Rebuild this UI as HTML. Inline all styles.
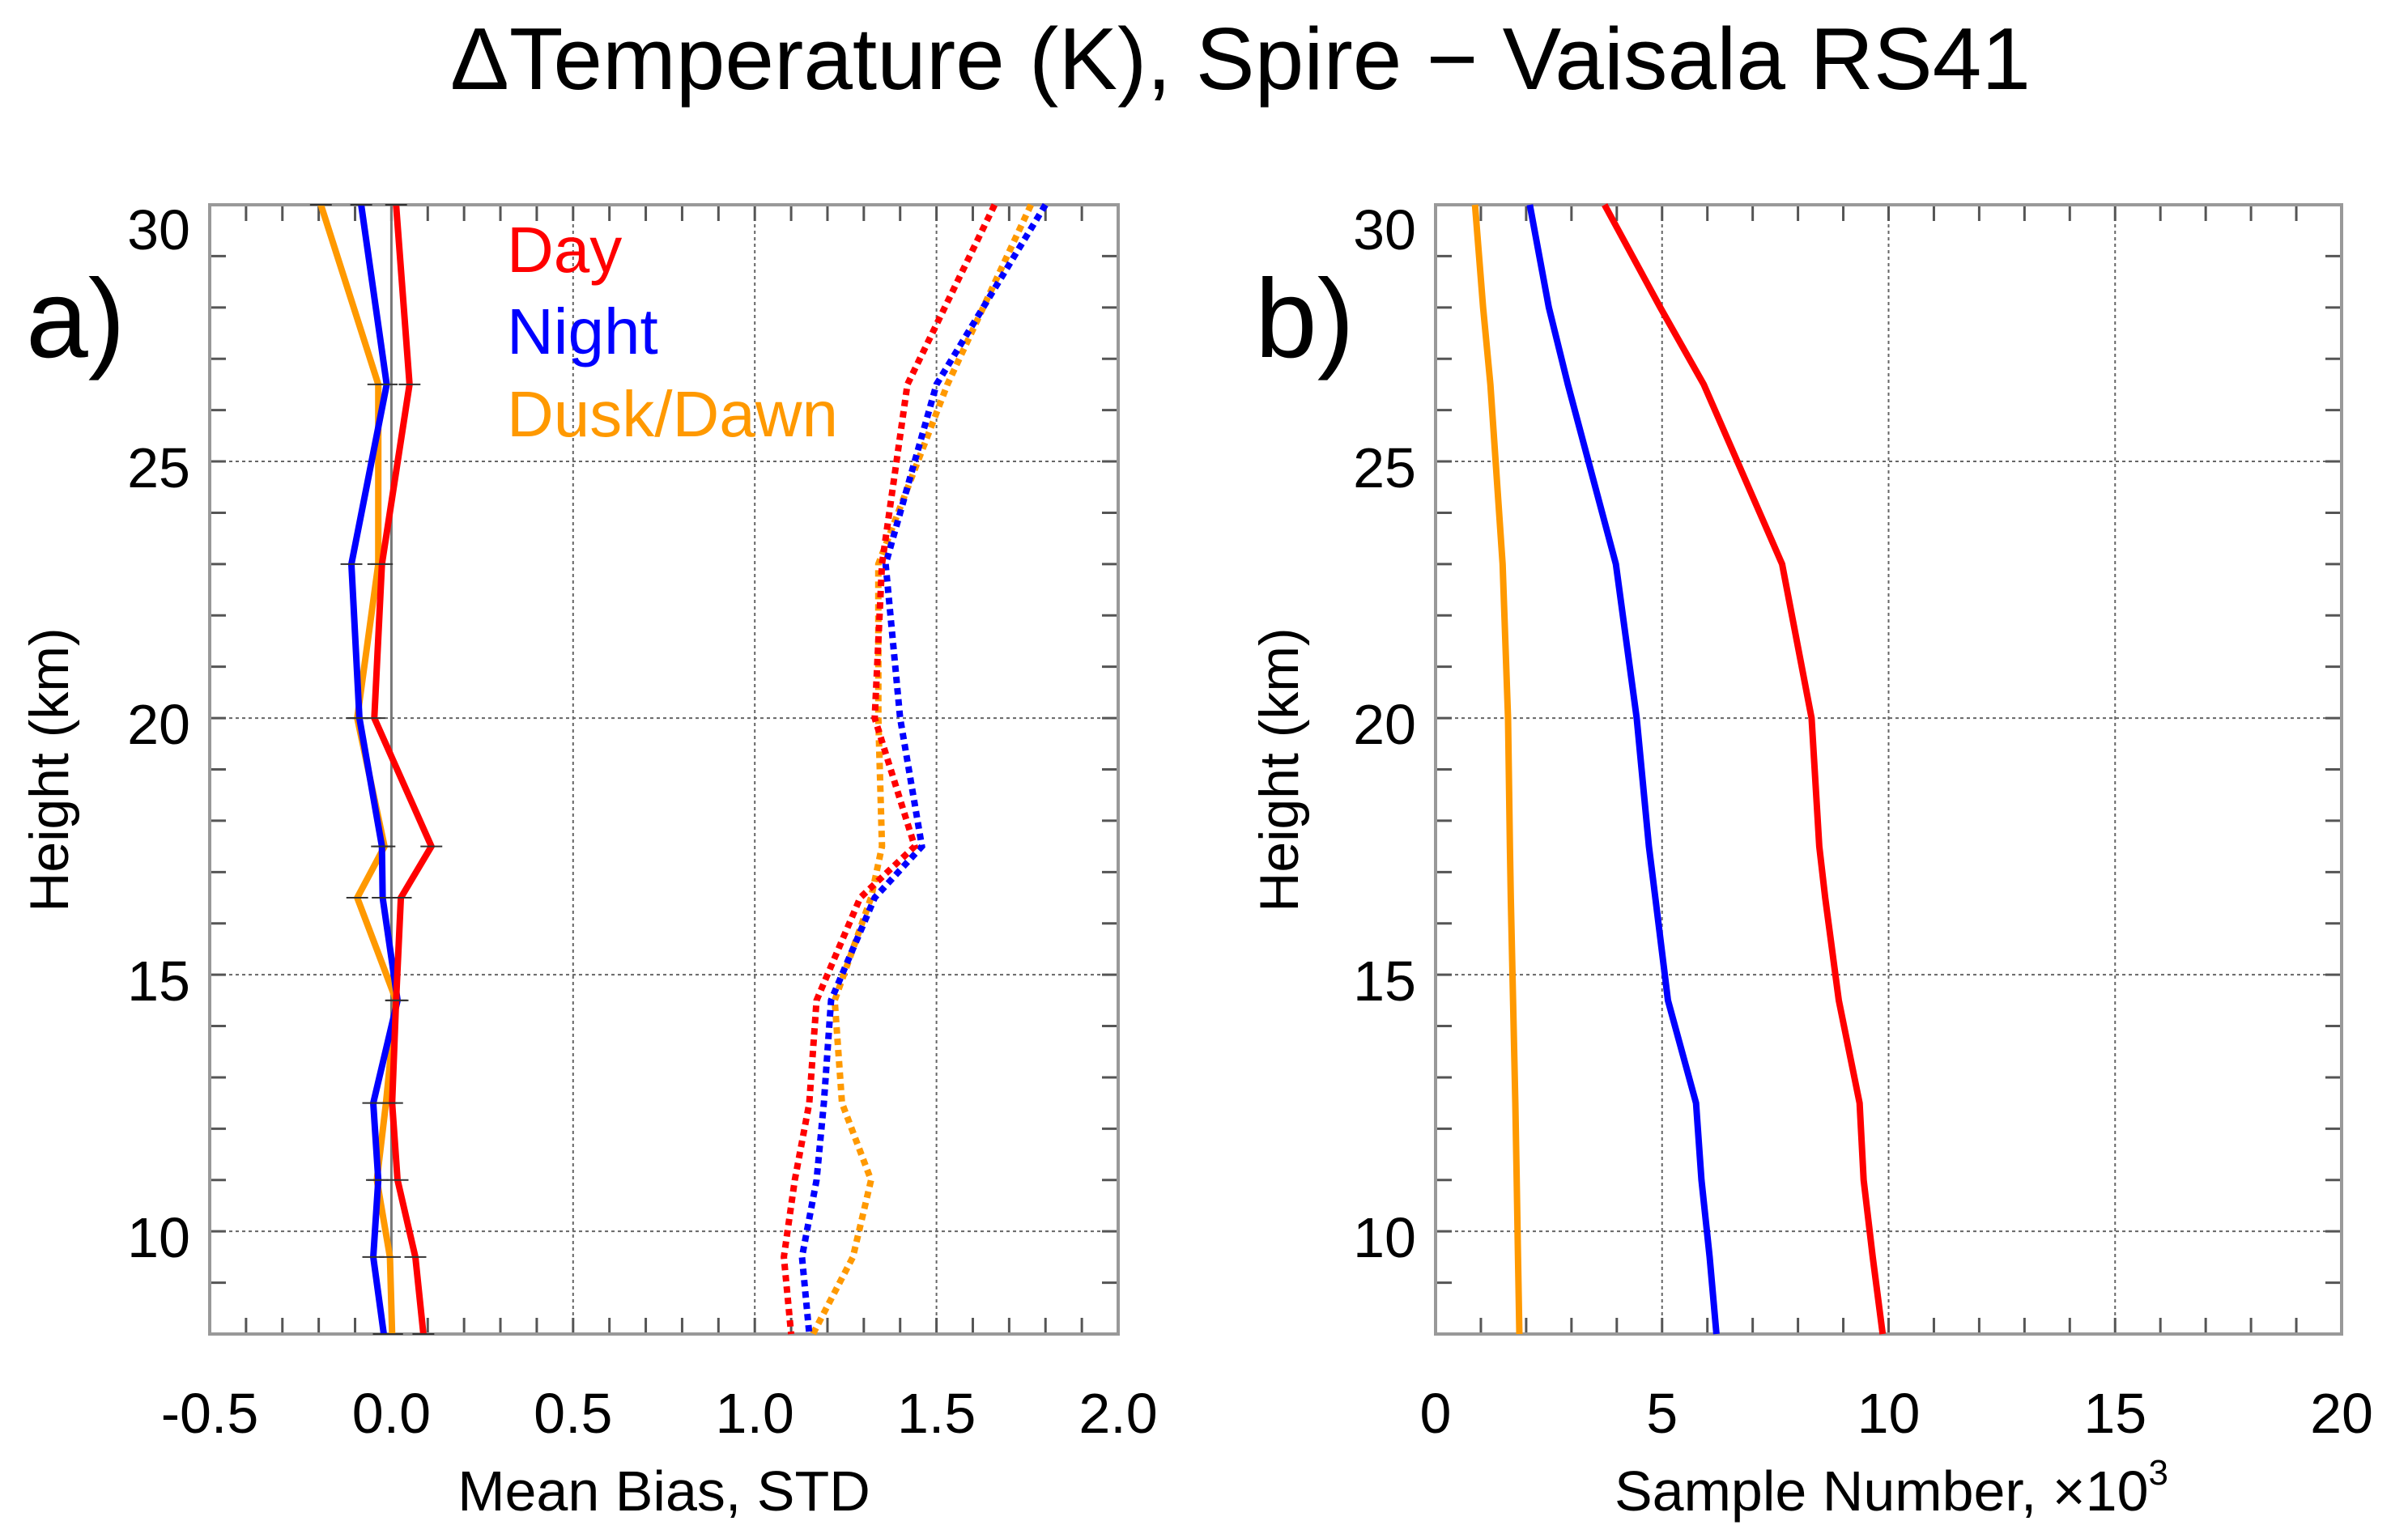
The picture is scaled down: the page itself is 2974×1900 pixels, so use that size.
<!DOCTYPE html>
<html><head><meta charset="utf-8"><style>
html,body{margin:0;padding:0;background:#fff;}
svg{display:block;font-family:"Liberation Sans",sans-serif;}
</style></head><body>
<svg id="chart" width="2974" height="1900" viewBox="0 0 2974 1900" xmlns="http://www.w3.org/2000/svg">
<text x="1532" y="110" font-size="109" text-anchor="middle">ΔTemperature (K), Spire − Vaisala RS41</text>
<g id="pa"></g>
<g id="pb"></g>
<text x="32" y="441" font-size="138">a)</text>
<text x="1550" y="441" font-size="138">b)</text>
<text x="626" y="336" font-size="80" fill="#ff0000">Day</text>
<text x="626" y="437" font-size="80" fill="#0000ff">Night</text>
<text x="626" y="539" font-size="80" fill="#ff9900">Dusk/Dawn</text>
<text x="820" y="1866" font-size="70" text-anchor="middle">Mean Bias, STD</text>
<text x="2336" y="1866" font-size="70" text-anchor="middle">Sample Number, ×10<tspan dy="-32" font-size="44">3</tspan></text>
<text transform="translate(84,951) rotate(-90)" font-size="68" text-anchor="middle">Height (km)</text>
<text transform="translate(1603,951) rotate(-90)" font-size="68" text-anchor="middle">Height (km)</text>
</svg>
<script>
// Shared height levels (km)
const levels = [30, 26.5, 23, 20, 17.5, 16.5, 14.5, 12.5, 11, 9.5, 8];
// Panel a: mean bias
const biasDay   = [0.013, 0.05, -0.026, -0.047, 0.11, 0.026, 0.013, 0.002, 0.017, 0.066, 0.088];
const biasNight = [-0.083, -0.013, -0.11, -0.088, -0.026, -0.024, 0.017, -0.05, -0.036, -0.05, -0.021];
const biasDusk  = [-0.194, -0.036, -0.036, -0.094, -0.019, -0.094, 0.013, -0.015, -0.04, -0.004, 0.002];
// Panel a: STD
const stdDay   = [1.66, 1.42, 1.35, 1.33, 1.44, 1.29, 1.17, 1.15, 1.11, 1.08, 1.10];
const stdNight = [1.80, 1.50, 1.36, 1.40, 1.46, 1.33, 1.21, 1.19, 1.17, 1.13, 1.15];
const stdDusk  = [1.76, 1.53, 1.34, 1.34, 1.35, 1.32, 1.22, 1.24, 1.32, 1.27, 1.16];
// Panel b: sample numbers (x10^3)
const sampLevels = [30, 28, 26.5, 23, 20, 17.5, 16.5, 14.5, 12.5, 11, 9.5, 8];
const sampDay   = [3.73, 4.96, 5.92, 7.65, 8.30, 8.47, 8.6, 8.9, 9.36, 9.45, 9.65, 9.87];
const sampNight = [2.08, 2.5, 2.92, 3.98, 4.44, 4.71, 4.85, 5.13, 5.75, 5.87, 6.05, 6.2];
const sampDusk  = [0.87, 1.05, 1.21, 1.48, 1.60, 1.64, 1.66, 1.71, 1.76, 1.79, 1.82, 1.85];
const xTicksA = ["-0.5", "0.0", "0.5", "1.0", "1.5", "2.0"];
const xTicksB = ["0", "5", "10", "15", "20"];
const yTicks = ["10", "15", "20", "25", "30"];

const NS = "http://www.w3.org/2000/svg";
const TOP = 253, BOT = 1648;
function yS(h){ return BOT - (h - 8) / 22 * (BOT - TOP); }
function mk(tag, attrs, parent){
  const e = document.createElementNS(NS, tag);
  for (const k in attrs) e.setAttribute(k, attrs[k]);
  parent.appendChild(e); return e;
}
function panel(g, x0, x1, xmin, xmax, minorStep, gridStep, xLabels, nm){
  const xS = v => x0 + (v - xmin) / (xmax - xmin) * (x1 - x0);
  for (let v = xmin + gridStep; v < xmax - 1e-9; v += gridStep) {
    const l = mk("line", {x1: xS(v), x2: xS(v), y1: TOP, y2: BOT, stroke: "#666", "stroke-width": 2, "stroke-dasharray": "4 4"}, g);
    
    
  }
  for (let h = 10; h < 30; h += 5) {
    const l = mk("line", {x1: x0, x2: x1, y1: yS(h), y2: yS(h), stroke: "#666", "stroke-width": 2, "stroke-dasharray": "4 4"}, g);
    
    
  }
  const n = Math.round((xmax - xmin) / minorStep);
  for (let i = 1; i < n; i++) {
    const x = xS(xmin + i * minorStep);
    const t = mk("path", {d: `M${x} ${BOT}V${BOT-20}M${x} ${TOP}V${TOP+20}`, stroke: "#555", "stroke-width": 3}, g);
    
    
  }
  for (let h = 9; h < 30; h++) {
    const y = yS(h);
    const t = mk("path", {d: `M${x0} ${y}H${x0+20}M${x1} ${y}H${x1-20}`, stroke: "#555", "stroke-width": 3}, g);
    
    
  }
  xLabels.forEach(s => {
    const t = mk("text", {x: xS(parseFloat(s)), y: 1770, "font-size": 70, "text-anchor": "middle"}, g);
    t.textContent = s;
    
    
  });
  yTicks.forEach(s => {
    const h = parseFloat(s);
    const off = h >= 30 ? 55 : 32;
    const t = mk("text", {x: x0 - 24, y: yS(h) + off, "font-size": 70, "text-anchor": "end"}, g);
    t.textContent = s;
    
    
  });
  const f = mk("rect", {x: x0, y: TOP, width: x1 - x0, height: BOT - TOP, fill: "none", stroke: "#999", "stroke-width": 4}, g);
  
  
  return xS;
}
function series(g, xS, vals, hs, color, dashed, name){
  const d = vals.map((v, i) => (i ? "L" : "M") + xS(v).toFixed(1) + " " + yS(hs[i]).toFixed(1)).join("");
  const p = mk("path", {d, fill: "none", stroke: color, "stroke-width": 8, "stroke-linejoin": "miter"}, g);
  if (dashed) p.setAttribute("stroke-dasharray", "8 6");
  
  
}
const ga = document.getElementById("pa"), gb = document.getElementById("pb");
const xa = panel(ga, 259, 1381, -0.5, 2.0, 0.1, 0.5, xTicksA, "panel-a");
const z = mk("line", {x1: xa(0), x2: xa(0), y1: TOP, y2: BOT, stroke: "#777", "stroke-width": 3}, ga);


series(ga, xa, biasDusk, levels, "#ff9900", false, "bias-dusk-dawn-line");
series(ga, xa, biasNight, levels, "#0000ff", false, "bias-night-line");
series(ga, xa, biasDay, levels, "#ff0000", false, "bias-day-line");
series(ga, xa, stdDusk, levels, "#ff9900", true, "std-dusk-dawn-line");
series(ga, xa, stdNight, levels, "#0000ff", true, "std-night-line");
series(ga, xa, stdDay, levels, "#ff0000", true, "std-day-line");
[biasDay, biasNight, biasDusk].forEach(arr => {
  arr.forEach((v, i) => {
    const y = yS(levels[i]);
    const e = mk("line", {x1: xa(v - 0.03), x2: xa(v + 0.03), y1: y, y2: y, stroke: "#333", "stroke-width": 2}, ga);
    
    
  });
});
const xb = panel(gb, 1773, 2892, 0, 20, 1, 5, xTicksB, "panel-b");
series(gb, xb, sampDusk, sampLevels, "#ff9900", false, "sample-dusk-dawn-line");
series(gb, xb, sampNight, sampLevels, "#0000ff", false, "sample-night-line");
series(gb, xb, sampDay, sampLevels, "#ff0000", false, "sample-day-line");
</script>
</body></html>
